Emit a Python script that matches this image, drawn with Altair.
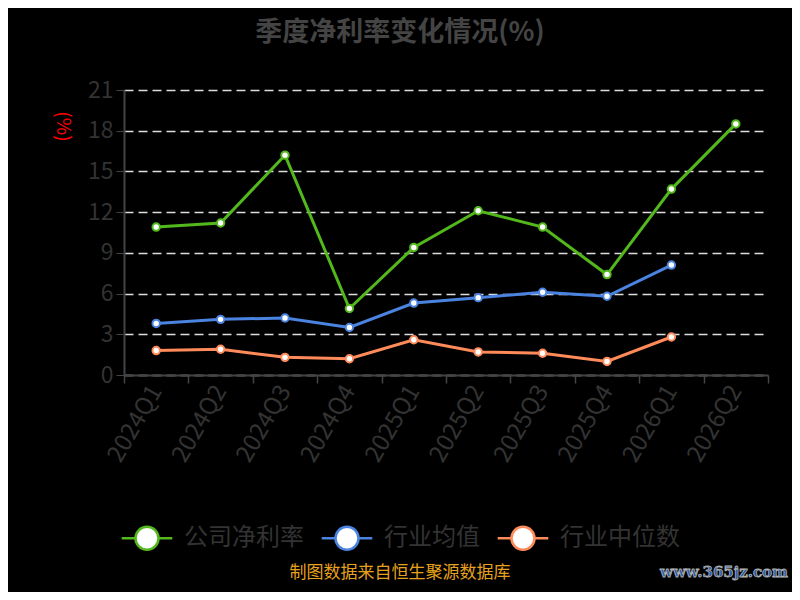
import altair as alt
import pandas as pd

quarters = ["2024Q1", "2024Q2", "2024Q3", "2024Q4", "2025Q1", "2025Q2",
            "2025Q3", "2025Q4", "2026Q1", "2026Q2"]
company = [10.9, 11.2, 16.2, 4.9, 9.4, 12.1, 10.9, 7.4, 13.7, 18.5]
ind_avg = [3.8, 4.1, 4.2, 3.5, 5.3, 5.7, 6.1, 5.8, 8.1, None]
ind_med = [1.8, 1.9, 1.3, 1.2, 2.6, 1.7, 1.6, 1.0, 2.8, None]

series_names = ["公司净利率", "行业均值", "行业中位数"]
series_colors = ["#52b81c", "#4a84e0", "#ff8a5a"]
y_ticks = [0, 3, 6, 9, 12, 15, 18, 21]

rows = []
for name, vals in zip(series_names, [company, ind_avg, ind_med]):
    for q, v in zip(quarters, vals):
        if v is not None:
            rows.append({"季度": q, "系列": name, "值": v})
df = pd.DataFrame(rows)

FONT = "Noto Sans CJK SC"

legend_path = ("M-2.2,0 L-1,0 M1,0 L2.2,0 "
               "M-1,0 A1,1 0 1,1 1,0 A1,1 0 1,1 -1,0 Z")

color = alt.Color(
    "系列:N",
    scale=alt.Scale(domain=series_names, range=series_colors),
    legend=alt.Legend(
        title=None, orient="none", direction="horizontal", columns=3,
        legendX=10, legendY=435,
        symbolType=legend_path, symbolSize=529, symbolFillColor="white",
        symbolStrokeWidth=2.5, symbolOpacity=1,
        labelFontSize=24, labelColor="#333333", labelFont=FONT,
        labelOffset=24, columnPadding=12, labelLimit=300,
    ),
)

x = alt.X(
    "季度:N", sort=quarters, title=None,
    scale=alt.Scale(domain=quarters, paddingInner=0, paddingOuter=0),
    axis=alt.Axis(labelAngle=-60, labelFontSize=24, labelColor="#333333",
                  labelFont=FONT, tickBand="extent", tickSize=8,
                  tickColor="#444444", domainColor="#444444",
                  domainWidth=2, tickWidth=1.5, labelPadding=4, grid=False),
)
y = alt.Y(
    "值:Q", title="(%)",
    scale=alt.Scale(domain=[0, 21], nice=False),
    axis=alt.Axis(values=y_ticks, labelFontSize=23, labelColor="#333333",
                  labelFont=FONT, tickSize=8, tickColor="#444444",
                  domainColor="#444444", domainWidth=2, labelPadding=3,
                  grid=True, gridColor="#dddddd", gridDash=[9, 5],
                  gridWidth=1.5,
                  titleColor="red", titleFontSize=19, titleFont=FONT,
                  titleFontWeight="normal", titleAngle=90,
                  titleX=-62, titleY=36, titleAlign="center",
                  titleBaseline="middle"),
)

base = alt.Chart(df)
lines = base.mark_line(strokeWidth=3).encode(x=x, y=y, color=color)
points = base.mark_point(filled=False, fill="white", fillOpacity=1, opacity=1,
                         size=55, strokeWidth=2).encode(
    x=x, y=y, color=alt.Color("系列:N", scale=alt.Scale(domain=series_names, range=series_colors), legend=None))

footer_df = pd.DataFrame({"t": ["制图数据来自恒生聚源数据库"]})
footer = alt.Chart(footer_df).mark_text(
    fontSize=17, color="#e6a21c", font=FONT, align="center", baseline="middle"
).encode(text="t:N", x=alt.value(276), y=alt.value(483))

wm_df = pd.DataFrame({"t": ["www.365jz.com"]})
watermark = alt.Chart(wm_df).mark_text(
    fontSize=15, color="#2a5aa8", stroke="#b0b0b0", strokeWidth=0.8,
    fontWeight="bold", font="DejaVu Serif", align="right", baseline="middle"
).encode(text="t:N", x=alt.value(664), y=alt.value(482))

chart = alt.layer(lines, points, footer, watermark).properties(
    width=644, height=285,
    title=alt.TitleParams("季度净利率变化情况(%)", fontSize=27, fontWeight="bold",
                          color="#444444", font=FONT, anchor="middle",
                          dx=-46, offset=32),
    autosize=alt.AutoSizeParams(type="none"),
    padding={"left": 116, "top": 82, "right": 24, "bottom": 217},
).configure(background="black").configure_view(stroke=None)

chart.save("out.html", embed_options={"renderer": "svg", "actions": False})
